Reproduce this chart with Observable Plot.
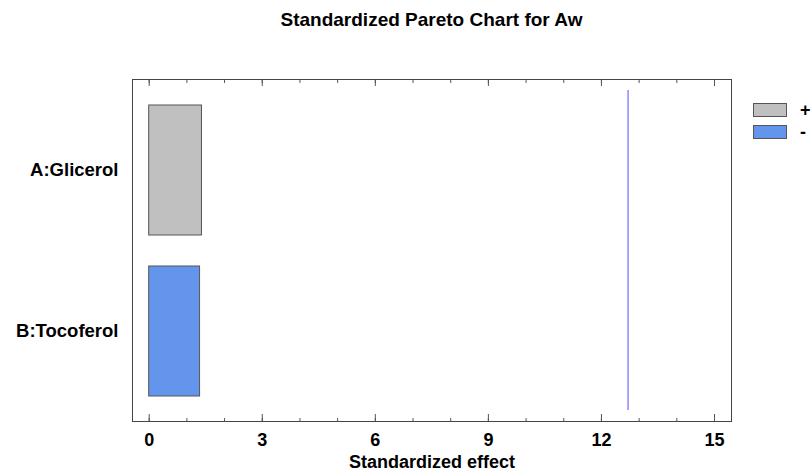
<!DOCTYPE html>
<html><head><meta charset="utf-8">
<script src="https://cdn.jsdelivr.net/npm/d3@7"></script>
<script src="https://cdn.jsdelivr.net/npm/@observablehq/plot@0.6"></script>
<style>
body{margin:0;background:#fff;}
#wrap{position:relative;width:811px;height:472px;overflow:hidden;font-family:"Liberation Sans",Arial,sans-serif;font-weight:bold;color:#000;}
#title{position:absolute;left:132px;width:599px;top:10px;line-height:19px;text-align:center;font-size:19px;}
#chart{position:absolute;left:0;top:36px;}
.lg{position:absolute;left:753px;display:flex;align-items:center;font-size:18px;}
.sw{width:32px;height:12px;border:1px solid #555;margin-right:13px;}
</style></head>
<body>
<div id="wrap">
  <div id="title"></div>
  <div id="chart"></div>
  <div id="legend"></div>
</div>
<script>
const chartTitle = "Standardized Pareto Chart for Aw";
const factors = ["A:Glicerol", "B:Tocoferol"];
const effects = [1.40, 1.35];
const signs = ["+", "-"];
const criticalValue = 12.706;
const xMajorTicks = [0, 3, 6, 9, 12, 15];
const xMinorTicks = [0, 1, 2, 3, 4, 5, 6, 7, 8, 9, 10, 11, 12, 13, 14, 15];
const legendLabels = ["+", "-"];
const legendColors = ["#c0c0c0", "#6495ed"];
const xLabel = "Standardized effect";

document.getElementById("title").textContent = chartTitle;

const data = factors.map((f, i) => ({factor: f, effect: effects[i], sign: signs[i]}));

const font = '"Liberation Sans", Arial, sans-serif';
const chart = Plot.plot({
  width: 811,
  height: 436,
  marginLeft: 132,
  marginRight: 80,
  marginTop: 43,
  marginBottom: 51,
  style: {fontFamily: font, fontWeight: "bold", fontSize: "18px", color: "#000", background: "#fff"},
  x: {domain: [-0.443, 15.451]},
  y: {domain: factors, paddingInner: 0.195, paddingOuter: 0.156},
  color: {domain: legendLabels, range: legendColors},
  marks: [
    Plot.barX(data, {x: "effect", y: "factor", fill: "sign", stroke: "#555", strokeWidth: 1}),
    Plot.ruleX([criticalValue], {stroke: "#5050ff", strokeWidth: 1, insetTop: 11, insetBottom: 11}),
    Plot.axisX({anchor: "bottom", ticks: xMinorTicks, tickSize: -3, text: null, label: null, stroke: "#555"}),
    Plot.axisX({anchor: "bottom", ticks: xMajorTicks, tickSize: -7, text: null, label: null, stroke: "#555"}),
    Plot.axisX({anchor: "top", ticks: xMinorTicks, tickSize: -3, text: null, label: null, stroke: "#555"}),
    Plot.axisX({anchor: "top", ticks: xMajorTicks, tickSize: -6, text: null, label: null, stroke: "#555"}),
    Plot.axisX({anchor: "bottom", ticks: xMajorTicks, tickSize: 0, tickPadding: 12, fontSize: 18,
      label: xLabel, labelAnchor: "center", labelOffset: 46, labelArrow: "none"}),
    Plot.axisY({anchor: "left", tickSize: 0, tickPadding: 14, fontSize: 18.5, label: null}),
    Plot.frame({stroke: "#444"})
  ]
});
document.getElementById("chart").appendChild(chart);

const legend = document.getElementById("legend");
legendLabels.forEach((l, i) => {
  const row = document.createElement("div");
  row.className = "lg";
  row.style.top = (103 + i * 22) + "px";
  row.style.height = "14px";
  const sw = document.createElement("div");
  sw.className = "sw";
  sw.style.background = legendColors[i];
  const t = document.createElement("span");
  t.textContent = l;
  row.appendChild(sw);
  row.appendChild(t);
  legend.appendChild(row);
});
</script>
</body></html>
